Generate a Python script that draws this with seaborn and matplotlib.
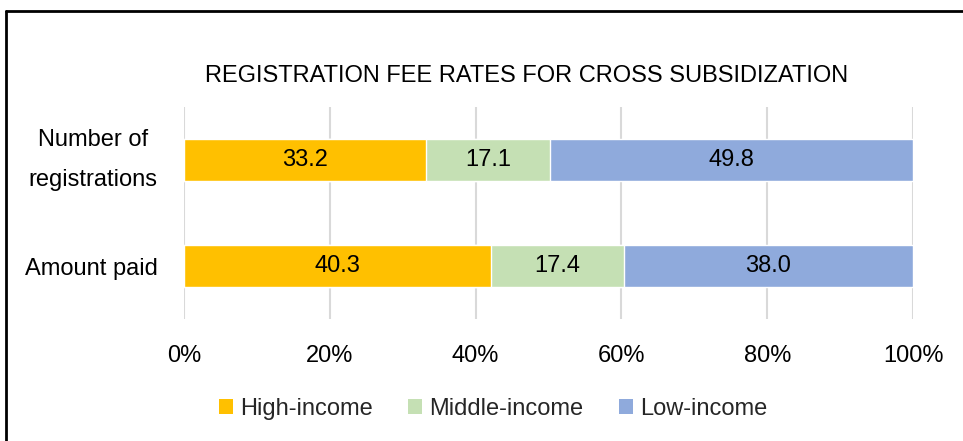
import numpy as np
import pandas as pd
import seaborn as sns
import matplotlib
matplotlib.use("Agg")
import matplotlib.pyplot as plt
from matplotlib.patches import Patch
from matplotlib.lines import Line2D
from matplotlib.ticker import PercentFormatter

# ---- data ----
categories = ["Number of\nregistrations", "Amount paid"]
series = ["High-income", "Middle-income", "Low-income"]
high = [33.2, 40.3]
middle = [17.1, 17.4]
low = [49.8, 38.0]
colors = ["#FFC000", "#C5E0B4", "#8FAADC"]
xticks = [0, 20, 40, 60, 80, 100]
title = "REGISTRATION FEE RATES FOR CROSS SUBSIDIZATION"

sns.set_theme(style="white")
plt.rcParams["font.family"] = ["Liberation Sans", "DejaVu Sans"]

df = pd.DataFrame({"category": categories, "High-income": high,
                   "Middle-income": middle, "Low-income": low})
totals = df[series].sum(axis=1)
shares = df[series].div(totals, axis=0) * 100
cum = shares.cumsum(axis=1)

W, H = 963, 441
fig = plt.figure(figsize=(W / 100, H / 100), dpi=100)
ax = fig.add_axes([184 / W, 1 - 319 / H, 729 / W, 212 / H])

for s, c in reversed(list(zip(series, colors))):
    sns.barplot(x=cum[s], y=df["category"], color=c, orient="h", width=0.4,
                saturation=1, ax=ax, edgecolor="white", linewidth=1, zorder=3)

for i in range(len(categories)):
    for s in series:
        xc = cum.loc[i, s] - shares.loc[i, s] / 2
        ax.text(xc, i, f"{df.loc[i, s]:.1f}", ha="center", va="center",
                fontsize=17, color="black", zorder=4)

ax.set_xlim(0, 100)
ax.set_ylim(1.5, -0.5)
ax.set_xticks(xticks)
ax.xaxis.set_major_formatter(PercentFormatter(decimals=0))
ax.set_xlabel("")
ax.set_ylabel("")
ax.grid(axis="x", color="#D9D9D9", linewidth=1.5, zorder=0)
ax.grid(axis="y", visible=False)
ax.set_axisbelow(True)
for sp in ax.spines.values():
    sp.set_visible(False)
ax.tick_params(axis="x", length=0, pad=19, labelsize=17, colors="black")
ax.tick_params(axis="y", length=0, pad=19, labelsize=17, colors="black")
for lbl in ax.get_yticklabels():
    lbl.set_multialignment("center")
    if "\n" in lbl.get_text():
        lbl.set_linespacing(2.1)
        lbl.set_verticalalignment("center")

fig.text(527 / W, 1 - 76 / H, title, ha="center", va="center", fontsize=17,
         color="black")

handles = [Patch(facecolor=c, edgecolor="none") for c in colors]
fig.legend(handles, series, loc="center", bbox_to_anchor=(493 / W, 1 - 409 / H),
           ncol=3, frameon=False, handlelength=0.6, handleheight=0.6,
           handletextpad=0.3, columnspacing=1.5, fontsize=17)

# outer frame (top and left edges visible)
fig.add_artist(Line2D([6 / W, 1], [1 - 11 / H, 1 - 11 / H], color="black", lw=2))
fig.add_artist(Line2D([6 / W, 6 / W], [0, 1 - 11 / H], color="black", lw=2))

fig.savefig("out.png", dpi=100, facecolor="white")
